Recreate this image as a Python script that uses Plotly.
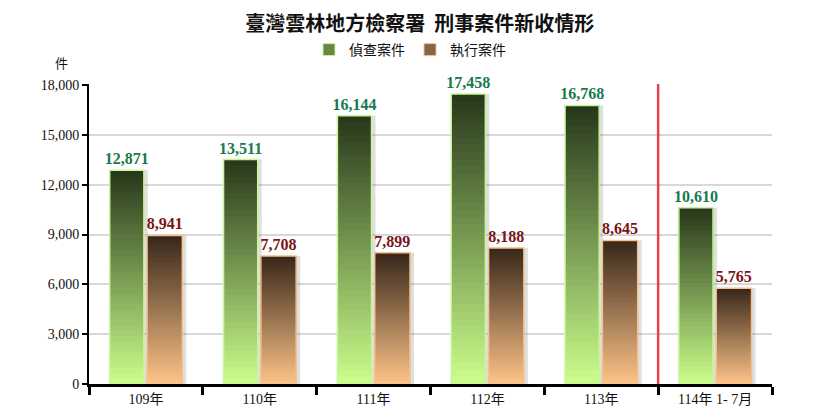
import plotly.graph_objects as go

categories = ["109年", "110年", "111年", "112年", "113年", "114年 1- 7月"]
investigation = [12871, 13511, 16144, 17458, 16768, 10610]
execution = [8941, 7708, 7899, 8188, 8645, 5765]
series_names = ["偵查案件", "執行案件"]
y_ticks = [0, 3000, 6000, 9000, 12000, 15000, 18000]

N = 40

def lerp(c1, c2, t):
    return "rgb(%d,%d,%d)" % tuple(round(a + (b - a) * t) for a, b in zip(c1, c2))

green_top, green_bot = (38, 54, 26), (204, 255, 140)
orange_top, orange_bot = (54, 38, 26), (255, 196, 136)

fig = go.Figure()

def add_series(values, name, offset, width, ctop, cbot, edge, label_color, rank):
    # soft shadow
    fig.add_trace(go.Bar(
        x=categories, y=[v + 60 for v in values], base=[-60] * len(values),
        offset=offset + 0.035, width=width,
        marker=dict(color="rgba(110,110,110,0.22)", line=dict(width=0)),
        showlegend=False, hoverinfo="skip",
    ))
    for i in range(N):
        t = (i + 0.5) / N  # 0 bottom -> 1 top
        col = lerp(cbot, ctop, t)
        fig.add_trace(go.Bar(
            x=categories,
            y=[v * (N - i) / N for v in values],
            base=[v * i / N for v in values],
            offset=offset, width=width,
            marker=dict(color=col, line=dict(width=0)),
            showlegend=False,
            hoverinfo="skip",
        ))
    # outline + labels
    fig.add_trace(go.Bar(
        x=categories,
        y=values,
        offset=offset, width=width,
        name=name,
        marker=dict(color="rgba(0,0,0,0)", line=dict(color=edge, width=1.5)),
        text=[f"{v:,}" for v in values],
        textposition="outside",
        constraintext="none",
        textfont=dict(family="Liberation Serif", size=16, color=label_color, weight="bold"),
        cliponaxis=False,
        showlegend=False,
    ))
    # legend swatch
    fig.add_trace(go.Bar(
        x=[categories[0]], y=[None], name=name, offset=offset, width=width,
        marker=dict(color=lerp(cbot, ctop, 0.6), line=dict(color=edge, width=1)),
        showlegend=True, legendrank=rank,
    ))

add_series(investigation, series_names[0], -0.318, 0.3, green_top, green_bot, "#c8f59a", "#177a4e", 1)
add_series(execution, series_names[1], 0.01, 0.31, orange_top, orange_bot, "#f5c08a", "#7a1416", 2)

fig.add_shape(type="line", xref="x", yref="paper", x0=4.5, x1=4.5, y0=0, y1=1,
              line=dict(color="#e0454f", width=2.5))

fig.add_annotation(text="件", xref="paper", yref="paper", x=-0.04, y=1.073,
                   xanchor="center", yanchor="middle",
                   showarrow=False, font=dict(family="Noto Sans CJK TC", size=13, color="#111"))

fig.update_layout(
    width=832, height=416,
    margin=dict(l=81, r=68, t=76, b=40, autoexpand=False),
    paper_bgcolor="white", plot_bgcolor="white",
    barmode="overlay",
    title=dict(text="臺灣雲林地方檢察署  刑事案件新收情形", x=0.495, xanchor="center",
               y=0.962, yanchor="middle",
               font=dict(family="Noto Sans CJK TC", size=20, color="#111", weight="bold")),
    legend=dict(orientation="h", x=0.47, xanchor="center",
                yref="container", y=0.899, yanchor="middle",
                font=dict(family="Noto Sans CJK TC", size=14, color="#111"),
                itemwidth=30, traceorder="normal"),
    font=dict(family="Liberation Serif, Noto Sans CJK TC", color="#111"),
    showlegend=True,
)

fig.update_xaxes(
    type="category", showline=True, linecolor="black", linewidth=3,
    ticks="outside", tickson="boundaries", ticklen=8, tickwidth=2.5, tickcolor="black",
    tickfont=dict(family="Liberation Serif, Noto Sans CJK TC", size=14, color="#111"),
    showgrid=False, zeroline=False,
)
fig.update_yaxes(
    range=[0, 18060], tickvals=y_ticks, tickformat=",d",
    showline=True, linecolor="black", linewidth=2,
    ticks="outside", ticklen=5, tickwidth=2, tickcolor="black",
    tickfont=dict(family="Liberation Serif", size=14, color="#111"),
    showgrid=True, gridcolor="#d8d8d8", gridwidth=1.5, zeroline=False,
)

fig.write_html("out.html")
